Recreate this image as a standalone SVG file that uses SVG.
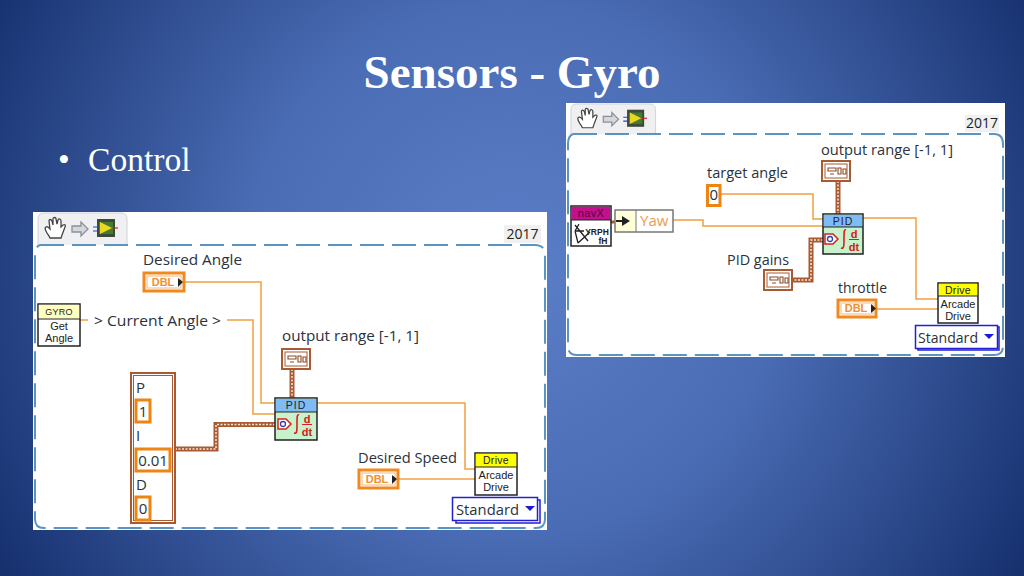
<svg xmlns="http://www.w3.org/2000/svg" width="1024" height="576" viewBox="0 0 1024 576">
<style>
.lbl{font-family:"Open Sans","Noto Sans",sans-serif;font-size:15px;fill:#2a323c}
.tiny{font-family:"Liberation Sans",sans-serif;font-size:11px;fill:#222;text-anchor:middle}
.hd{font-family:"Liberation Sans",sans-serif;font-size:10.5px;letter-spacing:.3px;fill:#222;text-anchor:middle}
.o{fill:none;stroke:#f0a040;stroke-width:1.5}
.bo{fill:none;stroke:#a85a32;stroke-width:5}
.bi{fill:none;stroke:#f3e6d8;stroke-width:1.5;stroke-dasharray:2 1.5}
.dash{fill:none;stroke:#5a94c0;stroke-width:2;stroke-dasharray:24 8}
.tab{fill:#f0f0f2;stroke:#cfd2d8;stroke-width:1}
.num{fill:#fff;stroke:#ee8412;stroke-width:3}
.term{fill:#fff;stroke:#f08a20;stroke-width:3}
.dbl{font-family:"Liberation Sans",sans-serif;font-size:11px;font-weight:bold;fill:#f09030;text-anchor:middle}
.node{fill:#fff;stroke:#222;stroke-width:1.5}
.cc{fill:#fff;stroke:#a85a32;stroke-width:2}
.pid{fill:#c8f2cc;stroke:#222;stroke-width:1.5}
.sym{font-family:"Liberation Sans",sans-serif;font-size:11px;fill:#d02020;font-weight:bold;text-anchor:middle}
.std{fill:#fff;stroke:#2020d0;stroke-width:1.5}
.yr{font-family:"Open Sans","Noto Sans",sans-serif;font-size:14px;fill:#222;text-anchor:middle}
</style>
<defs>
<radialGradient id="bg" gradientUnits="userSpaceOnUse" cx="512" cy="270" r="590">
<stop offset="0" stop-color="#5b7ec8"/><stop offset=".45" stop-color="#4a6cb4"/><stop offset="1" stop-color="#17316f"/>
</radialGradient>
<g id="toolbar">
<path d="M0 32V6Q0 0 6 0H83Q89 0 89 6V32" class="tab"/>
<path d="M11 23c-3-4-5-8-3-9s3 1 4 2l-1-8c0-2 2-2 3 0l1 4 0-6c0-2 3-2 3 0l1 5 1-4c1-2 3-1 3 1l0 6 2-2c2-1 3 0 2 2l-3 8-1 3H12z" fill="#fff" stroke="#444" stroke-width="1.3"/>
<path d="M34 13H43V9L50 16L43 23V19H34z" fill="#d4d8dc" stroke="#8a9096" stroke-width="1.3"/>
<rect x="59" y="6" width="18" height="18" fill="#3c4a3c"/><rect x="61" y="9" width="14" height="12" fill="#4a7a30"/><path d="M62 9L74 15L62 21z" fill="#e8d820"/>
<path d="M55 14h5M55 18h5" stroke="#2040d0" stroke-width="1.2"/><path d="M75 15h5" stroke="#d02020" stroke-width="1.2"/>
</g>
<g id="clusterIcon">
<rect x="0" y="0" width="28" height="20" class="cc"/><rect x="3" y="3" width="22" height="14" fill="#fff" stroke="#a85a32" stroke-width="1"/>
<path d="M6 7h8v3h-8zM8 13h4M16 7h3v6h-3zM21 8h3v5h-3z" fill="none" stroke="#8a4a28" stroke-width="1.1"/>
</g>
<g id="pidIcon">
<path d="M3 17H11L16 22L11 27H3z" fill="#fff" stroke="#d82020" stroke-width="1.5"/><circle cx="8" cy="22" r="2.5" fill="none" stroke="#3040b0" stroke-width="1.3"/>
<path d="M24 13c-2-1-2 2-2 9s0 10-3 9" fill="none" stroke="#d82020" stroke-width="1.6"/>
<path d="M27 22.500h10" stroke="#d82020" stroke-width="1"/>
</g>
<g id="stdArrow"><path d="M0 0H10L5 5z" fill="#1818e0"/></g>
</defs>
<rect width="1024" height="576" fill="url(#bg)"/>
<text x="512" y="88" text-anchor="middle" font-family="'Liberation Serif',serif" font-size="47" font-weight="bold" fill="#fff">Sensors - Gyro</text>
<text x="58" y="171" font-family="'Liberation Serif',serif" font-size="33.600" fill="#fff">•</text>
<text x="88" y="171" font-family="'Liberation Serif',serif" font-size="33.600" fill="#fff">Control</text>

<g id="panel-left">
<rect x="33" y="212" width="514" height="318" fill="#fff"/>
<use href="#toolbar" x="38" y="213"/>
<rect x="504" y="225" width="37" height="18" fill="#f0f0f0"/>
<text x="522.500" y="239" class="yr">2017</text>
<path d="M40 245H535Q545 245 545 255V519Q545 528 536 528H44Q35 528 35 519V255Q35 247 40 245" class="dash"/>
</g>
<g id="panel-right">
<rect x="566" y="103" width="439" height="254" fill="#fff"/>
<use href="#toolbar" transform="translate(571 104) scale(.95)"/>
<rect x="965" y="115" width="34" height="17" fill="#f0f0f0"/>
<text x="982" y="128" class="yr">2017</text>
<path d="M573 134H994Q1003 134 1003 144V346Q1003 355 994 355H577Q568 355 568 346V144Q568 136 573 134" class="dash"/>
</g>

<g id="connectors">
<path class="o" d="M185 282H261V403H275"/>
<path class="o" d="M80 320H88"/>
<path class="o" d="M227 320H253V414H275"/>
<path class="o" d="M317 403H465V469H475"/>
<path class="o" d="M399 479H475"/>
<path class="bo" d="M175 449H216V424.500H275"/><path class="bi" d="M175 449H216V424.500H275"/>
<path class="bo" d="M292 369V398"/><path class="bi" d="M292 369V398"/>
<path class="o" d="M721 194H813V219H823"/>
<path class="o" d="M673 220H703V226H823"/>
<path class="o" d="M863 218H916V299H938"/>
<path class="o" d="M877 309H938"/>
<path class="bo" d="M791 280H811V240H823"/><path class="bi" d="M791 280H811V240H823"/>
<path class="bo" d="M838 181V214"/><path class="bi" d="M838 181V214"/>
<path d="M611 222H618" stroke="#a85a32" stroke-width="3"/>
</g>

<g id="desired-angle">
<text x="143" y="265" class="lbl" textLength="99" lengthAdjust="spacingAndGlyphs">Desired Angle</text>
<rect x="144" y="273" width="40" height="18" class="term"/><rect x="147" y="276" width="34" height="12" fill="#fff" stroke="#f4b880"/>
<text x="163" y="286" class="dbl">DBL</text><path d="M178 278L183 282L178 287z" fill="#222"/>
</g>
<g id="gyro-get-angle">
<rect x="38" y="304" width="42" height="42" class="node"/><rect x="38.800" y="304.800" width="40.400" height="14" fill="#ffffc0"/><path d="M38 319H80" stroke="#222" stroke-width="1"/>
<text x="59" y="315" class="hd" style="font-size:9px">GYRO</text><text x="59" y="330" class="tiny">Get</text><text x="59" y="342" class="tiny">Angle</text>
</g>
<g id="current-angle"><text x="94" y="326" class="lbl" textLength="127" lengthAdjust="spacingAndGlyphs">&gt; Current Angle &gt;</text></g>
<g id="output-range-left">
<text x="282" y="341" class="lbl" textLength="137" lengthAdjust="spacingAndGlyphs">output range [-1, 1]</text>
<use href="#clusterIcon" x="282" y="349"/>
</g>
<g id="pid-cluster">
<rect x="131" y="373" width="44" height="150" fill="#fff" stroke="#a85a32" stroke-width="2"/><rect x="133.500" y="375.500" width="39" height="145" fill="none" stroke="#a85a32" stroke-width="1"/>
<text x="136" y="393" class="lbl">P</text>
<rect x="136" y="400" width="14" height="22" class="num"/><text x="143" y="417" class="lbl" text-anchor="middle">1</text>
<text x="136" y="441" class="lbl">I</text>
<rect x="136" y="449" width="34" height="22" class="num"/><text x="153" y="466" class="lbl" text-anchor="middle">0.01</text>
<text x="136" y="490" class="lbl">D</text>
<rect x="136" y="497" width="14" height="23" class="num"/><text x="143" y="514" class="lbl" text-anchor="middle">0</text>
</g>
<g id="pid-left">
<rect x="275" y="398" width="42" height="42" class="pid"/><rect x="275.800" y="398.800" width="40.400" height="13.200" fill="#80bcf4"/><path d="M275 412H317" stroke="#222" stroke-width="1"/>
<text x="296" y="409" class="hd" style="letter-spacing:1px">PID</text><use href="#pidIcon" x="275" y="402"/>
<text x="307" y="423" class="sym">d</text><text x="307" y="436" class="sym">dt</text>
</g>
<g id="desired-speed">
<text x="358" y="463" class="lbl" textLength="99" lengthAdjust="spacingAndGlyphs">Desired Speed</text>
<rect x="359" y="470" width="39" height="18" class="term"/><rect x="362" y="473" width="33" height="12" fill="#fff" stroke="#f4b880"/>
<text x="377" y="483" class="dbl">DBL</text><path d="M392 475L397 479L392 484z" fill="#222"/>
</g>
<g id="drive-left">
<rect x="475" y="453" width="42" height="42" class="node"/><rect x="475.800" y="453.800" width="40.400" height="13.200" fill="#ffff00"/><path d="M475 467H517" stroke="#222" stroke-width="1"/>
<text x="496" y="464" class="hd">Drive</text><text x="496" y="479" class="tiny">Arcade</text><text x="496" y="491" class="tiny">Drive</text>
</g>
<g id="standard-left">
<rect x="456" y="500" width="84" height="23" class="std"/><rect x="452.500" y="497.500" width="85" height="23" class="std"/>
<text x="456" y="515" class="lbl" textLength="63" lengthAdjust="spacingAndGlyphs">Standard</text><use href="#stdArrow" x="525" y="506"/>
</g>

<g id="navx">
<rect x="571" y="206" width="40" height="40" class="node"/><rect x="571.800" y="206.800" width="38.400" height="13.200" fill="#c4108c"/><path d="M571 220H611" stroke="#222" stroke-width="1"/>
<text x="591" y="217" class="hd" style="font-size:11px;fill:#4a0c40">navX</text>
<path d="M579 224L575 231M575 231H584M575 225L588 241M575 231L578 243M578 243L590 232" fill="none" stroke="#222" stroke-width="1.3"/>
<text x="597" y="235" class="hd" style="font-size:8.500px;font-weight:bold;letter-spacing:0">YRPH</text><text x="603" y="244" class="hd" style="font-size:8.500px;font-weight:bold;letter-spacing:0">fH</text>
</g>
<g id="yaw">
<rect x="615" y="210" width="58" height="22" fill="#fff" stroke="#777" stroke-width="1.5"/><rect x="616" y="211" width="20" height="20" fill="#ffffd8"/><path d="M636 210V232" stroke="#777"/>
<path d="M616 221H624" stroke="#222" stroke-width="2"/><path d="M622 216L630 221L622 226z" fill="#222"/>
<text x="640" y="226" class="lbl" style="fill:#f09a50">Yaw</text>
</g>
<g id="target-angle">
<text x="707" y="178" class="lbl" textLength="81" lengthAdjust="spacingAndGlyphs">target angle</text>
<rect x="707.500" y="185.500" width="12.500" height="20" class="num"/><text x="713.700" y="200" class="lbl" text-anchor="middle">0</text>
</g>
<g id="output-range-right">
<text x="821" y="155" class="lbl" textLength="132" lengthAdjust="spacingAndGlyphs">output range [-1, 1]</text>
<use href="#clusterIcon" x="822" y="161"/>
</g>
<g id="pid-right">
<rect x="823" y="214" width="40" height="40" class="pid"/><rect x="823.800" y="214.800" width="38.400" height="12.200" fill="#80bcf4"/><path d="M823 227H863" stroke="#222" stroke-width="1"/>
<text x="843" y="225" class="hd" style="letter-spacing:1px">PID</text><use href="#pidIcon" x="822" y="217"/>
<text x="854" y="238" class="sym">d</text><text x="854" y="251" class="sym">dt</text>
</g>
<g id="pid-gains">
<text x="727" y="265" class="lbl" textLength="62" lengthAdjust="spacingAndGlyphs">PID gains</text>
<use href="#clusterIcon" x="764" y="270"/>
</g>
<g id="throttle">
<text x="838" y="293" class="lbl" textLength="49" lengthAdjust="spacingAndGlyphs">throttle</text>
<rect x="838" y="300" width="38" height="17" class="term"/><rect x="841" y="303" width="32" height="11" fill="#fff" stroke="#f4b880"/>
<text x="856" y="312" class="dbl">DBL</text><path d="M871 304L876 308.500L871 313z" fill="#222"/>
</g>
<g id="drive-right">
<rect x="938" y="283" width="40" height="40" class="node"/><rect x="938.800" y="283.800" width="38.400" height="12.200" fill="#ffff00"/><path d="M938 296H978" stroke="#222" stroke-width="1"/>
<text x="958" y="294" class="hd">Drive</text><text x="958" y="308" class="tiny">Arcade</text><text x="958" y="320" class="tiny">Drive</text>
</g>
<g id="standard-right">
<rect x="918" y="327" width="81" height="23" class="std"/><rect x="915.500" y="325.500" width="82" height="23" class="std"/>
<text x="918" y="343" class="lbl" textLength="60" lengthAdjust="spacingAndGlyphs">Standard</text><use href="#stdArrow" x="984" y="334"/>
</g>
</svg>
